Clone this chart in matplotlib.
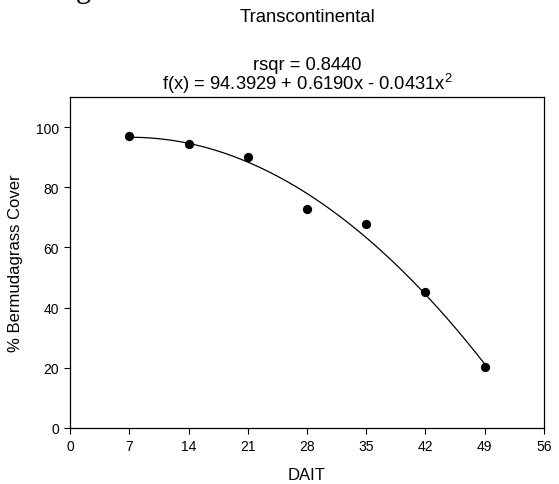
import numpy as np
import matplotlib
matplotlib.use('Agg')
import matplotlib.pyplot as plt

plt.rcParams['font.family'] = ['Liberation Sans', 'DejaVu Sans']
plt.rcParams['mathtext.fontset'] = 'custom'
plt.rcParams['mathtext.rm'] = 'Liberation Sans'

# Observed cover by days after initial treatment
dait = [7, 14, 21, 28, 35, 42, 49]
cover = [97.2, 94.4, 90.2, 72.8, 67.8, 45.3, 20.4]

# Quadratic fit coefficients (b0, b1, b2) as reported on the chart
coef = [94.3929, 0.6190, -0.0431]
rsqr = 0.8440

x_ticks = [0, 7, 14, 21, 28, 35, 42, 49, 56]
y_ticks = [0, 20, 40, 60, 80, 100]

fig = plt.figure(figsize=(5.59, 4.85), dpi=100)
ax = fig.add_axes([70 / 559, 1 - 429 / 485, (544 - 70) / 559, (429 - 98) / 485])

# fitted curve
xf = np.linspace(min(dait), max(dait), 200)
yf = coef[0] + coef[1] * xf + coef[2] * xf ** 2
ax.plot(xf, yf, color='black', linewidth=0.9)

ax.scatter(dait, cover, s=32, color='black', zorder=3)

ax.set_xlim(0, 56)
ax.set_ylim(0, 110)
ax.set_xticks(x_ticks)
ax.set_yticks(y_ticks)
ax.tick_params(direction='out', length=4, width=0.8, labelsize=10, pad=4)
for s in ax.spines.values():
    s.set_linewidth(0.9)

ax.set_xlabel('DAIT', fontsize=12, labelpad=10)
ax.set_ylabel('% Bermudagrass Cover', fontsize=12, labelpad=9)

cx = (70 + 544) / 2 / 559
fig.text(cx, 1 - 17 / 485, 'Transcontinental', ha='center', va='center', fontsize=13.3)
fig.text(cx, 1 - 65 / 485, f'rsqr = {rsqr:.4f}', ha='center', va='center', fontsize=13.2)
fig.text(cx, 1 - 84 / 485,
         f'f(x) = {coef[0]:.4f} + {coef[1]:.4f}x - {abs(coef[2]):.4f}x$^2$',
         ha='center', va='center', fontsize=13.2)

# clipped fragment of text from the page above
fig.text(76 / 559, 1 + 3 / 485, 'g', ha='left', va='baseline', fontsize=22,
         family='Liberation Serif')

fig.savefig('out.png', dpi=100)
